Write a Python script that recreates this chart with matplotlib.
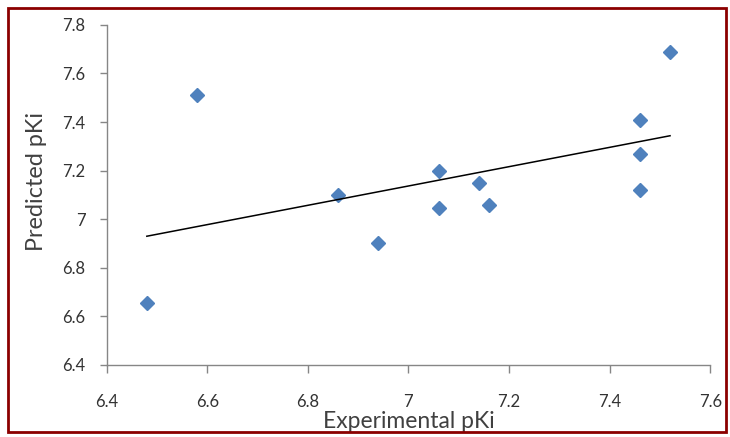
import matplotlib.pyplot as plt
import numpy as np
from matplotlib.patches import Rectangle

# values
experimental = [6.58, 6.48, 6.86, 6.94, 7.06, 7.06, 7.14, 7.16, 7.46, 7.46, 7.46, 7.52]
predicted = [7.51, 6.655, 7.10, 6.90, 7.20, 7.045, 7.15, 7.06, 7.41, 7.27, 7.12, 7.69]
x_ticks = [6.4, 6.6, 6.8, 7.0, 7.2, 7.4, 7.6]
x_labels = ["6.4", "6.6", "6.8", "7", "7.2", "7.4", "7.6"]
y_ticks = [6.4, 6.6, 6.8, 7.0, 7.2, 7.4, 7.6, 7.8]
y_labels = ["6.4", "6.6", "6.8", "7", "7.2", "7.4", "7.6", "7.8"]

plt.rcParams["font.family"] = ["Lato", "DejaVu Sans"]

fig = plt.figure(figsize=(7.3, 4.37), dpi=100)
ax = fig.add_axes([0.146, 0.165, 0.827, 0.778])

# scatter points as blue diamonds
ax.plot(experimental, predicted, linestyle="none", marker="D", markersize=7.5,
        color="#4F81BD", markeredgecolor="#4F81BD")

# linear trendline over the data range
slope, intercept = np.polyfit(experimental, predicted, 1)
xs = np.array([min(experimental), max(experimental)])
ax.plot(xs, slope * xs + intercept, color="black", linewidth=1.1)

ax.set_xlim(6.4, 7.6)
ax.set_ylim(6.4, 7.8)
ax.set_xticks(x_ticks)
ax.set_xticklabels(x_labels)
ax.set_yticks(y_ticks)
ax.set_yticklabels(y_labels)

for side in ["top", "right"]:
    ax.spines[side].set_visible(False)
for side in ["left", "bottom"]:
    ax.spines[side].set_color("#868686")
    ax.spines[side].set_linewidth(1)
ax.tick_params(direction="out", width=1, color="#868686",
               labelsize=12, labelcolor="#333333")
ax.tick_params(axis="x", length=6, pad=15)
ax.tick_params(axis="y", length=5, pad=10)

ax.set_xlabel("Experimental pKi", fontsize=16.5, color="#404040", labelpad=1)
ax.set_ylabel("Predicted pKi", fontsize=16.8, color="#404040", labelpad=11)
ax.yaxis.label.set_y(0.54)

# dark red frame round the whole chart
fig.patches.append(Rectangle((8 / 730, 5 / 437), 718 / 730, 424 / 437,
                             transform=fig.transFigure, fill=False,
                             edgecolor="#8B0000", linewidth=2))

fig.savefig("out.png", dpi=100)
